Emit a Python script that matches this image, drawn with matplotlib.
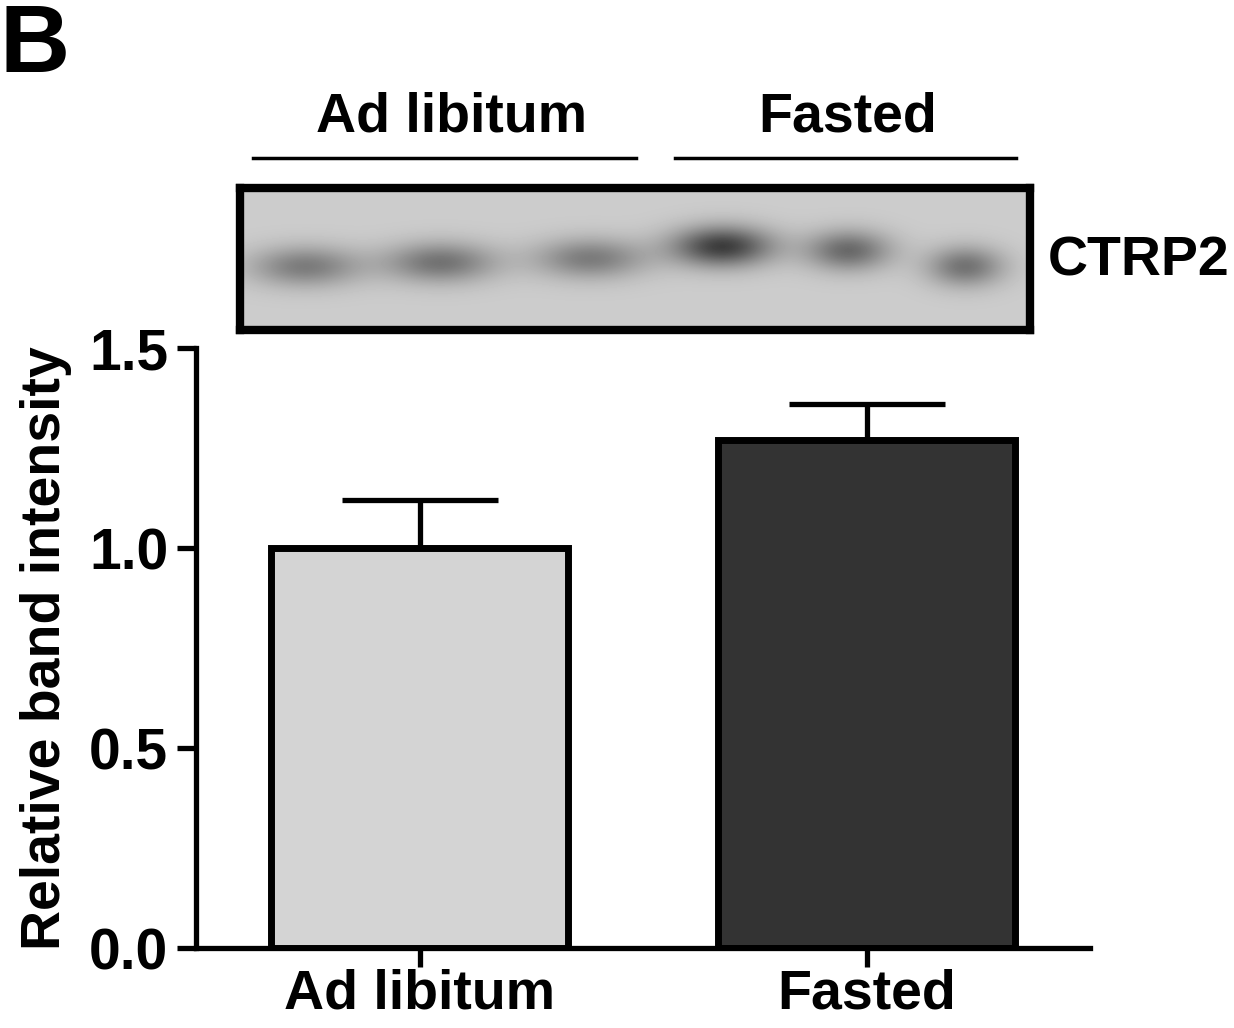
import matplotlib.pyplot as plt
import numpy as np
from matplotlib.lines import Line2D

plt.rcParams['font.family'] = ['Liberation Sans', 'DejaVu Sans']
plt.rcParams['font.weight'] = 'bold'

# bar data
groups = ['Ad libitum', 'Fasted']
means = [1.0, 1.27]
sem = [0.12, 0.09]
colors = ['#d4d4d4', '#333333']
yticks = [0.0, 0.5, 1.0, 1.5]

# blot lanes (pixel positions inside the blot panel, band darkness)
lane_x = [305, 440, 590, 722, 848, 965]
lane_y = [266, 262, 258, 246, 250, 266]
lane_w = [55, 55, 55, 50, 42, 38]
lane_dark = [0.45, 0.5, 0.45, 0.8, 0.55, 0.5]
blot_label = 'CTRP2'

W, H = 1234, 1028
fig = plt.figure(figsize=(W / 100, H / 100), dpi=100)

# main bar chart
ax = fig.add_axes([196 / W, 1 - 948 / H, (1090 - 196) / W, 600 / H])
x = np.arange(len(groups))
ax.errorbar(x, means, yerr=[[0] * len(sem), sem], fmt='none', ecolor='black',
            elinewidth=3.8, capsize=56, capthick=3.8, zorder=1)
ax.bar(x, means, width=0.665, color=colors, edgecolor='black', linewidth=5, zorder=2)
ax.set_xlim(-0.5, 1.5)
ax.set_ylim(0, 1.5)
ax.set_yticks(yticks)
ax.set_yticklabels([f'{t:.1f}' for t in yticks])
ax.set_xticks(x)
ax.set_xticklabels(groups)
for s in ['top', 'right']:
    ax.spines[s].set_visible(False)
for s in ['left', 'bottom']:
    ax.spines[s].set_linewidth(3.8)
ax.tick_params(axis='both', length=14, width=3.8, labelsize=41)
ax.tick_params(axis='x', pad=1, labelsize=40)
ax.tick_params(axis='y', pad=6)
ax.set_ylabel('Relative band intensity', fontsize=40, fontweight='bold', labelpad=12)

# western blot panel
bx0, bx1, by0, by1 = 240, 1030, 188, 330
bax = fig.add_axes([bx0 / W, 1 - by1 / H, (bx1 - bx0) / W, (by1 - by0) / H])
gx, gy = np.meshgrid(np.arange(bx0, bx1), np.arange(by0, by1))
img = np.full(gx.shape, 0.8)
for cx, cy, w, d in zip(lane_x, lane_y, lane_w, lane_dark):
    img -= d * 0.7 * np.exp(-((gx - cx) / w) ** 2 - ((gy - cy) / 20) ** 2)
img = np.clip(img, 0, 1)
bax.imshow(img, cmap='gray', vmin=0, vmax=1, extent=[bx0, bx1, by1, by0], aspect='auto')
bax.set_xticks([])
bax.set_yticks([])
for s in bax.spines.values():
    s.set_linewidth(6)
fig.text(1048 / W, 1 - 262 / H, blot_label, fontsize=40, fontweight='bold', va='center', ha='left')

# group headers above the blot
fig.add_artist(Line2D([253 / W, 636 / W], [1 - 158 / H] * 2, color='black', lw=2.5))
fig.add_artist(Line2D([675 / W, 1016 / W], [1 - 158 / H] * 2, color='black', lw=2.5))
fig.text(452 / W, 1 - 117 / H, groups[0], fontsize=40, fontweight='bold', ha='center', va='center')
fig.text(848 / W, 1 - 117 / H, groups[1], fontsize=40, fontweight='bold', ha='center', va='center')

# panel letter
fig.text(0, 1 - 2 / H, 'B', fontsize=70, fontweight='bold', ha='left', va='top')

fig.savefig('out.png', dpi=100)
